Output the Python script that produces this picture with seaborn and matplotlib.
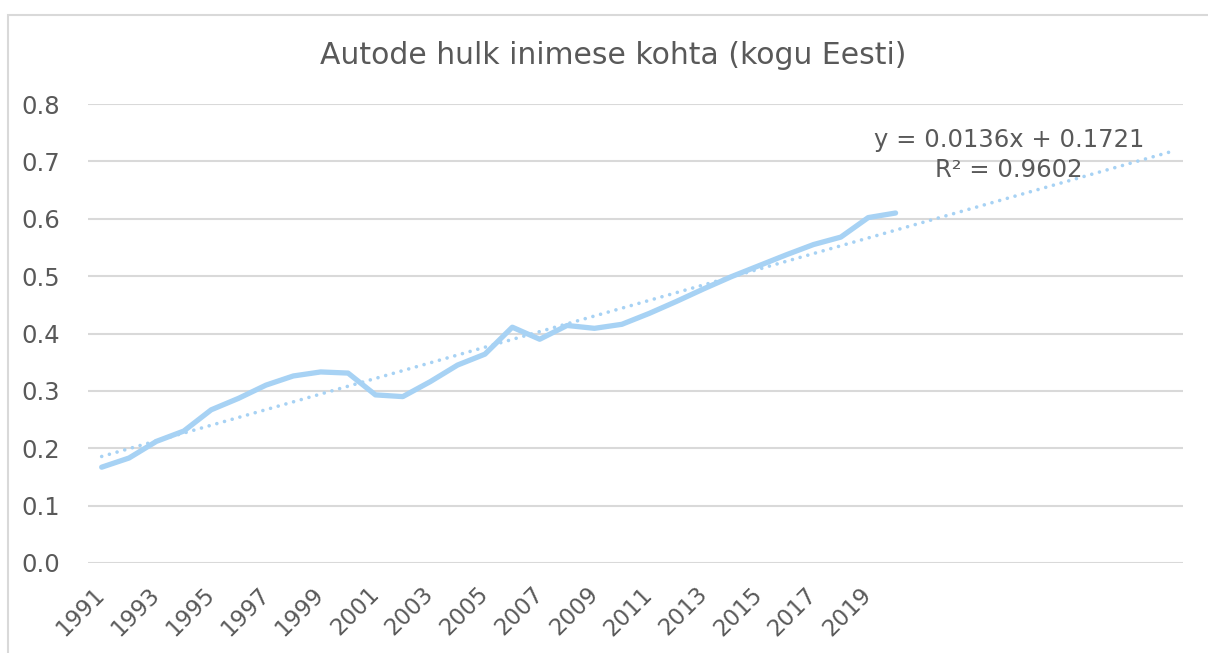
import numpy as np
import pandas as pd
import matplotlib
matplotlib.use('Agg')
import matplotlib.pyplot as plt
import seaborn as sns

# autode arv inimese kohta, loetud pildilt
years = list(range(1991, 2021))
cars_per_person = [0.167, 0.183, 0.212, 0.230, 0.267, 0.287, 0.310, 0.326, 0.333, 0.331,
                   0.293, 0.290, 0.316, 0.345, 0.364, 0.411, 0.390, 0.414, 0.409, 0.416,
                   0.435, 0.456, 0.478, 0.499, 0.518, 0.537, 0.555, 0.568, 0.602, 0.610]

# excel trendline (linear, forecast forward 10 periods)
trend_slope = 0.0136
trend_intercept = 0.1721
trend_r2 = 0.9602
forecast_years = 10

tick_years = list(range(1991, 2020, 2))
y_ticks = [0.0, 0.1, 0.2, 0.3, 0.4, 0.5, 0.6, 0.7, 0.8]

LINE_COL = '#A7D2F4'
TEXT_COL = '#595959'
GRID_COL = '#D9D9D9'

sns.set_style('white')
plt.rcParams['font.family'] = ['DejaVu Sans']

df = pd.DataFrame({'year': years, 'value': cars_per_person})
trend_x = np.arange(years[0], years[-1] + forecast_years + 1)
trend_df = pd.DataFrame({'year': trend_x,
                         'trend': trend_slope * (trend_x - years[0] + 1) + trend_intercept})

fig = plt.figure(figsize=(12.08, 6.53), dpi=100)
ax = fig.add_axes([88 / 1208, 1 - 563 / 653, 1095 / 1208, 459 / 653])

# chart border like excel
fig.patches.append(plt.Rectangle((8 / 1208, -0.05), 1.1, 1 - 15 / 653 + 0.05,
                                 transform=fig.transFigure, fill=False,
                                 edgecolor=GRID_COL, linewidth=1.5))

for yt in y_ticks:
    ax.axhline(yt, color=GRID_COL, linewidth=1.5, zorder=0)

# dotted trendline
sns.lineplot(data=trend_df, x='year', y='trend', ax=ax, color=LINE_COL,
             linewidth=2.6, linestyle=(0, (0.01, 2.2)), zorder=2)
ax.lines[-1].set_dash_capstyle('round')
sns.lineplot(data=df, x='year', y='value', ax=ax, color=LINE_COL,
             linewidth=3.8, solid_capstyle='round', solid_joinstyle='round', zorder=3)

ax.set_xlim(years[0] - 0.5, years[-1] + forecast_years + 0.5)
ax.set_ylim(0, 0.8)
ax.set_yticks(y_ticks)
ax.set_yticklabels([f'{v:.1f}' for v in y_ticks])
ax.set_xticks(tick_years)
ax.set_xticklabels([str(y) for y in tick_years], rotation=45, ha='right',
                   va='center', rotation_mode='anchor')
ax.tick_params(axis='x', length=0, pad=20, labelsize=16.5, colors=TEXT_COL)
ax.tick_params(axis='y', length=0, pad=20, labelsize=17.5, colors=TEXT_COL)
ax.set_xlabel('')
ax.set_ylabel('')
for s in ax.spines.values():
    s.set_visible(False)

fig.text(613 / 1208, 1 - 56 / 653, 'Autode hulk inimese kohta (kogu Eesti)',
         ha='center', va='center', fontsize=21.5, color=TEXT_COL)

ax.annotate(f'y = {trend_slope:.4f}x + {trend_intercept:.4f}\nR² = {trend_r2:.4f}',
            xy=(1009 / 1208, 1 - 155 / 653), xycoords='figure fraction',
            ha='center', va='center', fontsize=17.5, color=TEXT_COL, linespacing=1.35)

fig.savefig('out.png', dpi=100)
